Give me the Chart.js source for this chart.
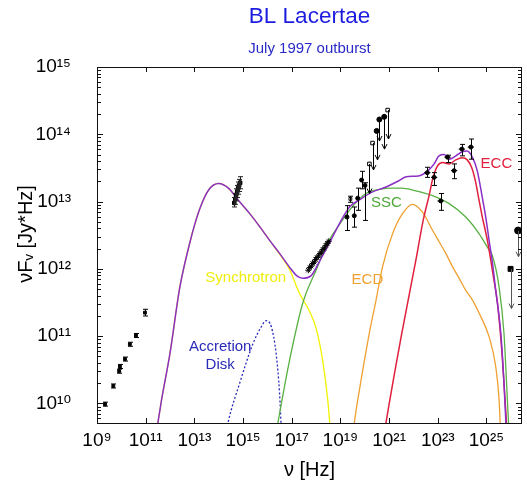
<!DOCTYPE html>
<html>
<head>
<meta charset="utf-8">
<script src="https://cdn.jsdelivr.net/npm/chart.js@4.4.1/dist/chart.umd.min.js"></script>
<style>
  html, body { margin: 0; padding: 0; background: #fff; }
</style>
</head>
<body>
<canvas id="sedChart" width="527" height="482"></canvas>
<script>
// all values are log10: frequency [Hz] and nuFnu [Jy*Hz]
const xTickExp = [9, 11, 13, 15, 17, 19, 21, 23, 25];
const yTickExp = [10, 11, 12, 13, 14, 15];

// model curves
const totalNu = [11.42, 11.5, 11.65, 12.0, 12.4, 12.8, 13.2, 13.6, 14.0, 14.4, 14.85, 15.3, 15.7, 16.1, 16.5, 16.9, 17.2, 17.45, 17.8, 18.15, 18.6, 19.0, 19.4, 19.8, 20.3, 20.9, 21.4, 21.7, 22.2, 22.6, 22.85, 23.05, 23.27, 23.47, 23.74, 23.95, 24.2, 24.42, 24.62, 24.83, 24.97, 25.11, 25.25, 25.38, 25.5, 25.6, 25.72, 25.82];
const totalFlux = [9.55, 9.71, 10.05, 10.75, 11.72, 12.37, 12.87, 13.18, 13.27, 13.2, 13.0, 12.81, 12.62, 12.42, 12.23, 12.03, 11.9, 11.86, 11.9, 12.12, 12.42, 12.7, 12.93, 13.03, 13.14, 13.22, 13.31, 13.37, 13.38, 13.46, 13.56, 13.68, 13.70, 13.63, 13.68, 13.73, 13.75, 13.66, 13.46, 13.06, 12.77, 12.42, 12.08, 11.68, 11.35, 11.0, 10.3, 9.55];

const synchNu = [11.42, 11.5, 11.65, 12.0, 12.4, 12.8, 13.2, 13.6, 14.0, 14.4, 14.85, 15.3, 15.7, 16.1, 16.5, 16.9, 17.3, 17.73, 18.0, 18.27, 18.48, 18.6];
const synchFlux = [9.55, 9.71, 10.05, 10.75, 11.72, 12.37, 12.87, 13.18, 13.27, 13.2, 13.0, 12.81, 12.62, 12.42, 12.22, 12.0, 11.65, 11.37, 11.12, 10.64, 10.05, 9.55];

const sscNu = [16.35, 16.43, 16.91, 17.46, 18.0, 18.5, 19.0, 19.5, 20.05, 20.6, 21.1, 21.5, 22.1, 22.78, 23.47, 24.15, 24.7, 25.04, 25.24, 25.52, 25.72, 25.86, 25.93];
const sscFlux = [9.55, 9.71, 10.64, 11.5, 11.98, 12.4, 12.68, 12.93, 13.12, 13.18, 13.2, 13.2, 13.16, 13.09, 12.97, 12.77, 12.52, 12.32, 12.2, 11.73, 11.04, 10.05, 9.55];

const ecdNu = [19.52, 19.57, 19.85, 20.19, 20.46, 20.73, 21.14, 21.55, 21.96, 22.38, 22.79, 23.06, 23.33, 23.61, 23.88, 24.15, 24.42, 24.7, 25.11, 25.38, 25.52, 25.58];
const ecdFlux = [9.55, 9.71, 10.35, 11.05, 11.53, 12.03, 12.52, 12.82, 12.96, 12.84, 12.57, 12.40, 12.23, 12.03, 11.86, 11.68, 11.54, 11.34, 10.99, 10.55, 10.05, 9.55];

const eccNu = [20.8, 20.87, 21.5, 22.1, 22.4, 22.65, 22.8, 22.99, 23.2, 23.47, 23.74, 24.01, 24.21, 24.4, 24.55, 24.7, 24.83, 25.04, 25.3, 25.45, 25.65, 25.85];
const eccFlux = [9.55, 9.71, 11.0, 12.13, 12.72, 13.1, 13.35, 13.53, 13.58, 13.56, 13.62, 13.65, 13.62, 13.5, 13.3, 13.01, 12.77, 12.42, 11.85, 11.5, 10.69, 9.55];

const diskNu = [14.3, 14.38, 14.86, 15.41, 15.75, 15.95, 16.16, 16.36, 16.5, 16.58];
const diskFlux = [9.55, 9.71, 10.3, 10.89, 11.14, 11.23, 11.14, 10.74, 10.15, 9.55];

// observations
const radioNu = [9.33, 9.67, 9.91, 9.94, 10.15, 10.35, 10.60, 10.97];
const radioFlux = [9.99, 10.26, 10.48, 10.55, 10.66, 10.88, 11.01, 11.35];
const radioLo = [9.96, 10.23, 10.45, 10.52, 10.63, 10.85, 10.98, 11.30];
const radioHi = [10.02, 10.29, 10.51, 10.58, 10.69, 10.91, 11.04, 11.40];

const opticalNu = [14.64, 14.68, 14.72, 14.76, 14.80, 14.84, 14.88];
const opticalFlux = [12.98, 13.04, 13.10, 13.15, 13.20, 13.24, 13.28];
const opticalLo = [12.92, 12.96, 13.01, 13.06, 13.11, 13.15, 13.19];
const opticalHi = [13.06, 13.12, 13.19, 13.24, 13.29, 13.33, 13.37];

const xrayNu = [17.68, 17.74, 17.80, 17.86, 17.92, 17.98, 18.04, 18.10, 18.16, 18.22, 18.28, 18.34, 18.40, 18.46, 18.52];
const xrayFlux = [11.98, 12.02, 12.04, 12.08, 12.10, 12.14, 12.17, 12.19, 12.23, 12.25, 12.29, 12.31, 12.35, 12.38, 12.41];

const hardNu = [19.27, 19.41, 19.57, 19.71, 19.87, 20.01];
const hardFlux = [12.77, 13.04, 12.79, 13.05, 13.32, 13.24];
const hardLo = [12.57, 12.99, 12.62, 12.87, 13.19, 12.72];
const hardHi = [12.94, 13.08, 12.92, 13.20, 13.45, 13.28];

const limitNu = [20.19, 20.32, 20.49, 20.60, 20.80, 20.94];
const limitFlux = [13.56, 13.87, 14.05, 14.22, 14.26, 14.36];
const limitTip = [13.12, 13.47, 13.62, 13.90, 13.78, 13.93];

const gammaNu = [22.57, 22.85, 23.12, 23.40, 23.67, 23.99, 24.36];
const gammaFlux = [13.43, 13.36, 13.01, 13.66, 13.46, 13.78, 13.81];
const gammaLo = [13.36, 13.24, 12.87, 13.58, 13.34, 13.68, 13.63];
const gammaHi = [13.51, 13.43, 13.12, 13.69, 13.56, 13.85, 13.93];

const tevNu = [25.99, 26.30];
const tevFlux = [12.0, 12.57];
const tevTip = [11.41, 12.18];

// curve names and where they sit (log10 nu, log10 nuFnu)
const curveNames = ['Synchrotron', 'Accretion', 'Disk', 'SSC', 'ECD', 'ECC'];
const curveNameNu = [15.11, 14.06, 14.06, 20.89, 20.11, 25.41];
const curveNameFlux = [11.87, 10.84, 10.57, 12.98, 11.84, 13.56];
const curveNameColors = ['#eeee10', '#2a2ab8', '#2a2ab8', '#4ea838', '#f0a030', '#e0203c'];

const FONT = "'Liberation Sans', 'DejaVu Sans', Arial, sans-serif";
const SUP = '⁰¹²³⁴⁵⁶⁷⁸⁹';

function pow10Points(nu, flux) {
    return nu.map((v, i) => ({ x: Math.pow(10, v), y: Math.pow(10, flux[i]) }));
}

function expLabel(value) {
    const e = Math.round(Math.log10(value));
    return '10' + String(e).split('').map(d => SUP[+d]).join('');
}

function curve(label, nu, flux, color, order, extra) {
    return Object.assign({
        label: label,
        data: pow10Points(nu, flux),
        showLine: true,
        borderColor: color,
        borderWidth: 1.3,
        pointRadius: 0,
        cubicInterpolationMode: 'monotone',
        order: order
    }, extra || {});
}

function markers(label, nu, flux, style, radius, fill, extra) {
    return Object.assign({
        label: label,
        data: pow10Points(nu, flux),
        showLine: false,
        pointStyle: style,
        pointRadius: radius,
        backgroundColor: fill,
        borderColor: '#000',
        borderWidth: 1,
        order: 0
    }, extra || {});
}

// inward ticks on all four sides plus the box
const frameTicks = {
    id: 'frameTicks',
    afterDraw(chart) {
        const { ctx, chartArea: a, scales: { x, y } } = chart;
        ctx.save();
        ctx.strokeStyle = '#111';
        ctx.lineWidth = 1;
        ctx.strokeRect(a.left + 0.5, a.top + 0.5, a.right - a.left - 1, a.bottom - a.top);
        ctx.beginPath();
        xTickExp.forEach(e => {
            const px = Math.round(x.getPixelForValue(Math.pow(10, e))) + 0.5;
            ctx.moveTo(px, a.bottom); ctx.lineTo(px, a.bottom - 5);
            ctx.moveTo(px, a.top); ctx.lineTo(px, a.top + 5);
        });
        for (let d = 9; d <= 14; d++) {
            for (let m = 1; m <= 9; m++) {
                const v = m * Math.pow(10, d);
                if (v < y.min || v > y.max) continue;
                const len = m === 1 ? 6 : 4;
                const py = Math.round(y.getPixelForValue(v)) + 0.5;
                ctx.moveTo(a.left, py); ctx.lineTo(a.left + len, py);
                ctx.moveTo(a.right, py); ctx.lineTo(a.right - len, py);
            }
        }
        ctx.stroke();
        ctx.restore();
    }
};

// error bars and upper-limit arrows from the dataset's own arrays
const errorBars = {
    id: 'errorBars',
    afterDatasetsDraw(chart) {
        const { ctx, scales: { x, y } } = chart;
        chart.data.datasets.forEach(ds => {
            if (!ds.yLow && !ds.limitTo) return;
            ctx.save();
            ctx.strokeStyle = ds.barColor || '#000';
            ctx.lineWidth = 1;
            ds.data.forEach((p, j) => {
                const px = Math.round(x.getPixelForValue(p.x)) + 0.5;
                const py = y.getPixelForValue(p.y);
                ctx.beginPath();
                if (ds.yLow) {
                    const lo = y.getPixelForValue(Math.pow(10, ds.yLow[j]));
                    const hi = y.getPixelForValue(Math.pow(10, ds.yHigh[j]));
                    ctx.moveTo(px, lo); ctx.lineTo(px, hi);
                    ctx.moveTo(px - 2.5, lo); ctx.lineTo(px + 2.5, lo);
                    ctx.moveTo(px - 2.5, hi); ctx.lineTo(px + 2.5, hi);
                }
                if (ds.xHalf) {
                    const l = x.getPixelForValue(Math.pow(10, Math.log10(p.x) - ds.xHalf));
                    const r = x.getPixelForValue(Math.pow(10, Math.log10(p.x) + ds.xHalf));
                    ctx.moveTo(l, py); ctx.lineTo(r, py);
                }
                if (ds.limitTo) {
                    const tip = y.getPixelForValue(Math.pow(10, ds.limitTo[j]));
                    ctx.moveTo(px, py); ctx.lineTo(px, tip);
                    ctx.moveTo(px - 2.5, tip - 5); ctx.lineTo(px, tip); ctx.lineTo(px + 2.5, tip - 5);
                }
                ctx.stroke();
            });
            ctx.restore();
        });
    }
};

// component names written next to their curves
const curveLabels = {
    id: 'curveLabels',
    afterDatasetsDraw(chart) {
        const { ctx, scales: { x, y } } = chart;
        ctx.save();
        ctx.font = '15px ' + FONT;
        ctx.textAlign = 'center';
        ctx.textBaseline = 'middle';
        curveNames.forEach((t, i) => {
            ctx.fillStyle = curveNameColors[i];
            ctx.fillText(t, x.getPixelForValue(Math.pow(10, curveNameNu[i])), y.getPixelForValue(Math.pow(10, curveNameFlux[i])));
        });
        ctx.restore();
    }
};

Chart.defaults.font.family = FONT;
Chart.defaults.color = '#000';

const ctx = document.getElementById('sedChart').getContext('2d');

new Chart(ctx, {
    type: 'scatter',
    data: {
        datasets: [
            markers('Radio', radioNu, radioFlux, 'rect', 2, '#000', { yLow: radioLo, yHigh: radioHi }),
            markers('Optical', opticalNu, opticalFlux, 'rect', 2.5, '#000', { yLow: opticalLo, yHigh: opticalHi, barColor: '#222' }),
            markers('X-ray', xrayNu, xrayFlux, 'star', 3, '#000'),
            markers('Hard X-ray', hardNu, hardFlux, ['circle', 'rect', 'circle', 'circle', 'circle', 'circle'], 2,
                ['#000', '#fff', '#000', '#000', '#000', '#000'], { yLow: hardLo, yHigh: hardHi }),
            markers('Upper limits', limitNu, limitFlux, ['rect', 'rect', 'circle', 'circle', 'circle', 'rect'], 2.5,
                ['#fff', '#fff', '#000', '#000', '#000', '#fff'], { limitTo: limitTip }),
            markers('Gamma-ray', gammaNu, gammaFlux, 'circle', 2, '#000', { yLow: gammaLo, yHigh: gammaHi, xHalf: 0.13 }),
            markers('TeV', tevNu, tevFlux, ['rect', 'circle'], 3.5, '#000', { limitTo: tevTip, barColor: '#555' }),
            curve('Total', totalNu, totalFlux, '#8c2fc6', 1, { borderWidth: 1.5 }),
            curve('ECC', eccNu, eccFlux, '#e0203c', 2, { borderWidth: 1.5 }),
            curve('SSC', sscNu, sscFlux, '#58b043', 3),
            curve('ECD', ecdNu, ecdFlux, '#f0a030', 4),
            curve('Accretion Disk', diskNu, diskFlux, '#2a2ab8', 5, { borderDash: [2, 2] }),
            curve('Synchrotron', synchNu, synchFlux, '#f2f200', 6)
        ]
    },
    options: {
        responsive: false,
        animation: false,
        events: [],
        layout: { padding: { left: 0, right: 4, top: 0, bottom: 0 } },
        plugins: {
            legend: { display: false },
            tooltip: { enabled: false },
            title: {
                display: true,
                fullSize: false,
                text: 'BL Lacertae',
                color: '#1c1ce0',
                font: { size: 22.5, weight: 'normal' },
                padding: { top: 3, bottom: 6 }
            },
            subtitle: {
                display: true,
                fullSize: false,
                text: 'July 1997 outburst',
                color: '#2a2ac8',
                font: { size: 15 },
                padding: { top: 4, bottom: 9 }
            }
        },
        scales: {
            x: {
                type: 'logarithmic',
                min: 1e9,
                max: Math.pow(10, 26.46),
                afterBuildTicks: s => { s.ticks = xTickExp.map(e => ({ value: Math.pow(10, e) })); },
                afterFit: s => { s.height = 59; },
                grid: { display: false, drawTicks: false },
                border: { display: false },
                ticks: { callback: expLabel, font: { size: 19 }, padding: 6, maxRotation: 0, autoSkip: false },
                title: { display: true, text: 'ν [Hz]', font: { size: 20 }, padding: { top: 0, bottom: 0 } }
            },
            y: {
                type: 'logarithmic',
                min: Math.pow(10, 9.71),
                max: 1e15,
                afterBuildTicks: s => { s.ticks = yTickExp.map(e => ({ value: Math.pow(10, e) })); },
                afterFit: s => { s.width = 97; },
                grid: { display: false, drawTicks: false },
                border: { display: false },
                ticks: { callback: expLabel, font: { size: 19 }, padding: 26, autoSkip: false },
                title: { display: true, text: '    νFᵥ [Jy*Hz]', font: { size: 20 }, padding: { top: 14, bottom: 0 } }
            }
        }
    },
    plugins: [frameTicks, errorBars, curveLabels]
});
</script>
</body>
</html>
